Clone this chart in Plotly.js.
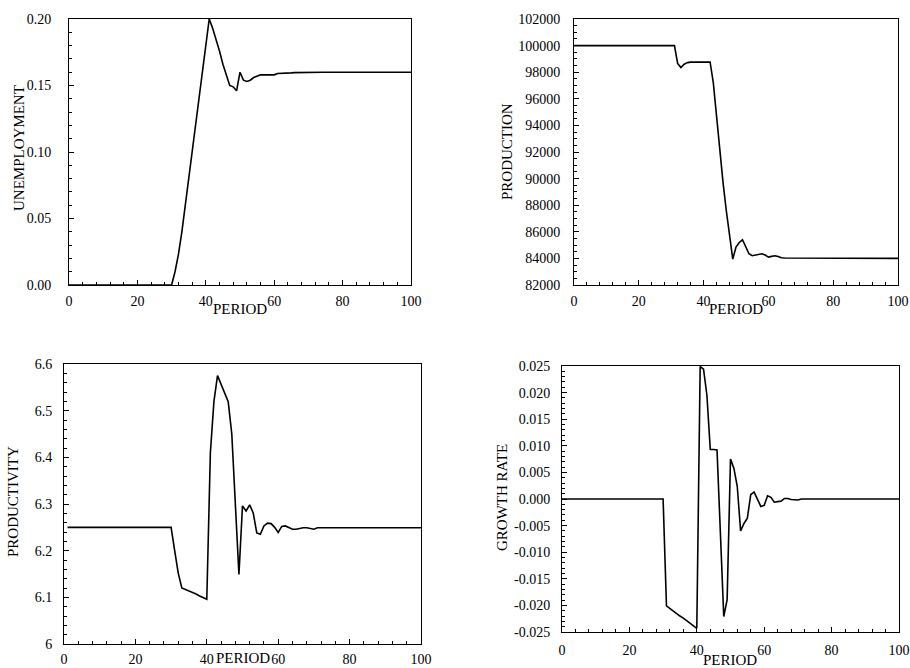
<!DOCTYPE html>
<html>
<head>
<meta charset="utf-8">
<script src="https://cdn.plot.ly/plotly-3.0.1.min.js"></script>
<style>
  html, body { margin: 0; padding: 0; background: #fff; }
  #chart { width: 910px; height: 668px; }
</style>
</head>
<body>
<div id="chart"></div>
<script>
const periods = [
  0,1,2,3,4,5,6,7,8,9,10,11,12,13,14,15,16,17,18,19,20,
  21,22,23,24,25,26,27,28,29,30,31,32,33,34,35,36,37,38,39,40,
  41,42,43,44,45,46,47,48,49,50,51,52,53,54,55,56,57,58,59,60,
  61,62,63,64,65,66,67,68,69,70,71,72,73,74,75,76,77,78,79,80,
  81,82,83,84,85,86,87,88,89,90,91,92,93,94,95,96,97,98,99,100
];

const unemployment = [
  0,0,0,0,0,0,0,0,0,0, 0,0,0,0,0,0,0,0,0,0, 0,0,0,0,0,0,0,0,0,0, 0,
  0.010,0.023,0.040,0.060,0.080,0.100,0.119,0.139,0.159,0.179,
  0.200,0.193,0.185,0.176,0.166,0.157,0.150,0.149,0.146,0.160,
  0.154,0.153,0.154,0.156,0.157,0.158,0.158,0.158,0.158,0.158,
  0.159,0.159,0.159,0.159,0.1595,0.1597,0.1598,0.1599,0.16,0.16,
  0.16,0.16,0.16,0.16,0.16,0.16,0.16,0.16,0.16,0.16,
  0.16,0.16,0.16,0.16,0.16,0.16,0.16,0.16,0.16,0.16,
  0.16,0.16,0.16,0.16,0.16,0.16,0.16,0.16,0.16,0.16
];

const production = [
  100000,100000,100000,100000,100000,100000,100000,100000,100000,100000,
  100000,100000,100000,100000,100000,100000,100000,100000,100000,100000,
  100000,100000,100000,100000,100000,100000,100000,100000,100000,100000,
  100000,100000,
  98650,98350,98600,98720,98760,98770,98770,98770,98770,
  98770,98770,97200,94500,91800,89700,87600,85600,83950,84850,
  85200,85400,84900,84350,84200,84250,84350,84350,84250,84100,
  84150,84200,84150,84050,84030,84030,84020,84020,84010,84000,
  84000,84000,84000,84000,84000,84000,84000,84000,84000,84000,
  84000,84000,84000,84000,84000,84000,84000,84000,84000,84000,
  84000,84000,84000,84000,84000,84000,84000,84000,84000,84000
];

const productivity = [
  null,
  6.25,6.25,6.25,6.25,6.25,6.25,6.25,6.25,6.25,6.25,
  6.25,6.25,6.25,6.25,6.25,6.25,6.25,6.25,6.25,6.25,
  6.25,6.25,6.25,6.25,6.25,6.25,6.25,6.25,6.25,6.25,
  6.20,6.152,6.12,6.117,6.113,6.110,6.107,6.103,6.100,6.096,
  6.41,6.52,6.575,6.557,6.538,6.519,6.45,6.30,6.149,6.296,
  6.285,6.298,6.281,6.238,6.235,6.253,6.259,6.258,6.25,6.239,
  6.252,6.253,6.25,6.246,6.246,6.248,6.249,6.249,6.248,6.246,
  6.249,6.249,6.249,6.249,6.249,6.249,6.249,6.249,6.249,6.249,
  6.249,6.249,6.249,6.249,6.249,6.249,6.249,6.249,6.249,6.249,
  6.249,6.249,6.249,6.249,6.249,6.249,6.249,6.249,6.249,6.249
];

const growthRate = [
  0,0,0,0,0,0,0,0,0,0, 0,0,0,0,0,0,0,0,0,0, 0,0,0,0,0,0,0,0,0,0, 0,
  -0.0201,-0.0206,-0.0210,-0.0215,-0.0220,-0.0224,-0.0229,-0.0234,-0.0238,-0.0243,
  0.0249,0.0244,0.0195,0.0093,0.0093,0.0092,-0.0064,-0.0221,-0.0189,0.0075,
  0.0058,0.0024,-0.0060,-0.0046,-0.0036,0.0008,0.0013,0.0000,-0.0014,-0.0012,
  0.0006,0.0003,-0.0006,-0.0005,-0.0004,0.0001,0.0001,-0.0001,-0.0002,-0.0002,
  0,0,0,0,0,0,0,0,0,0, 0,0,0,0,0,0,0,0,0,0, 0,0,0,0,0,0,0,0,0,0
];

const growthTickVals = [-0.025,-0.020,-0.015,-0.010,-0.005,0,0.005,0.010,0.015,0.020,0.025];
const growthTickText = ["-0.025","-0.020","-0.015","-0.010","-0.005","0.000","0.005","0.010","0.015","0.020","0.025"];

const yTitles = ["UNEMPLOYMENT", "PRODUCTION", "PRODUCTIVITY", "GROWTH RATE"];
const xTitle = "PERIOD";

const W = 910, H = 668;
const FONT = "Liberation Serif, Times New Roman, serif";

function xd(a, b) { return [a / W, b / W]; }
function yd(top, bottom) { return [1 - bottom / H, 1 - top / H]; }

function xAxis(dom, anchor, standoff) {
  return {
    domain: dom, anchor: anchor, range: [0, 100], dtick: 20, tick0: 0,
    showline: true, mirror: true, linecolor: "#000", linewidth: 1,
    ticks: "inside", ticklen: 5, tickcolor: "#000", tickwidth: 1,
    minor: { dtick: 4, tick0: 0, ticks: "inside", ticklen: 3, tickcolor: "#000", tickwidth: 1, showgrid: false },
    showgrid: false, zeroline: false,
    tickfont: { family: FONT, size: 14, color: "#000" },
    ticklabelstandoff: standoff
  };
}
function yAxis(dom, anchor, range, dtick, minorDtick, fmt, standoff) {
  return {
    domain: dom, anchor: anchor, range: range, dtick: dtick, tick0: range[0],
    showline: true, mirror: true, linecolor: "#000", linewidth: 1,
    ticks: "inside", ticklen: 5, tickcolor: "#000", tickwidth: 1,
    minor: { dtick: minorDtick, tick0: range[0], ticks: "inside", ticklen: 3, tickcolor: "#000", tickwidth: 1, showgrid: false },
    showgrid: false, zeroline: false, tickformat: fmt,
    tickfont: { family: FONT, size: 14, color: "#000" },
    ticklabelstandoff: standoff
  };
}

const lineStyle = { color: "#000", width: 1.6 };

const traces = [
  { x: periods, y: unemployment, xaxis: "x", yaxis: "y", mode: "lines", line: lineStyle, hoverinfo: "skip" },
  { x: periods, y: production, xaxis: "x2", yaxis: "y2", mode: "lines", line: lineStyle, hoverinfo: "skip" },
  { x: periods, y: productivity, xaxis: "x3", yaxis: "y3", mode: "lines", line: lineStyle, hoverinfo: "skip" },
  { x: periods, y: growthRate, xaxis: "x4", yaxis: "y4", mode: "lines", line: lineStyle, hoverinfo: "skip" }
];

const gy = yAxis(yd(366, 632), "x4", [-0.025, 0.025], 0.005, 0.001, "", 8);
gy.tickmode = "array"; gy.tickvals = growthTickVals; gy.ticktext = growthTickText;

function ann(text, px, py, angle) {
  return { text: text, xref: "paper", yref: "paper", x: px / W, y: 1 - py / H,
           xanchor: "center", yanchor: "middle", showarrow: false, textangle: angle || 0,
           font: { family: FONT, size: 15, color: "#000" } };
}

const layout = {
  width: W, height: H,
  margin: { l: 0, r: 0, t: 0, b: 0 },
  paper_bgcolor: "#fff", plot_bgcolor: "#fff",
  showlegend: false,
  xaxis: xAxis(xd(69, 411), "y", 3),
  yaxis: yAxis(yd(19, 285), "x", [0, 0.2], 0.05, 0.01, ".2f", 14),
  xaxis2: xAxis(xd(574, 898), "y2", 3),
  yaxis2: yAxis(yd(19, 285), "x2", [82000, 102000], 2000, 500, "d", 10),
  xaxis3: xAxis(xd(64, 421), "y3", 2),
  yaxis3: yAxis(yd(364, 644), "x3", [6, 6.6], 0.1, 0.02, "", 8),
  xaxis4: xAxis(xd(562, 899), "y4", 5),
  yaxis4: gy,
  annotations: [
    ann(yTitles[0], 19, 148, -90),
    ann(yTitles[1], 507, 152, -90),
    ann(yTitles[2], 13, 502, -90),
    ann(yTitles[3], 502, 498, -90),
    ann(xTitle, 240, 309),
    ann(xTitle, 736, 309),
    ann(xTitle, 243, 658),
    ann(xTitle, 730, 660)
  ]
};

Plotly.newPlot("chart", traces, layout, { staticPlot: true, displayModeBar: false });
</script>
</body>
</html>
